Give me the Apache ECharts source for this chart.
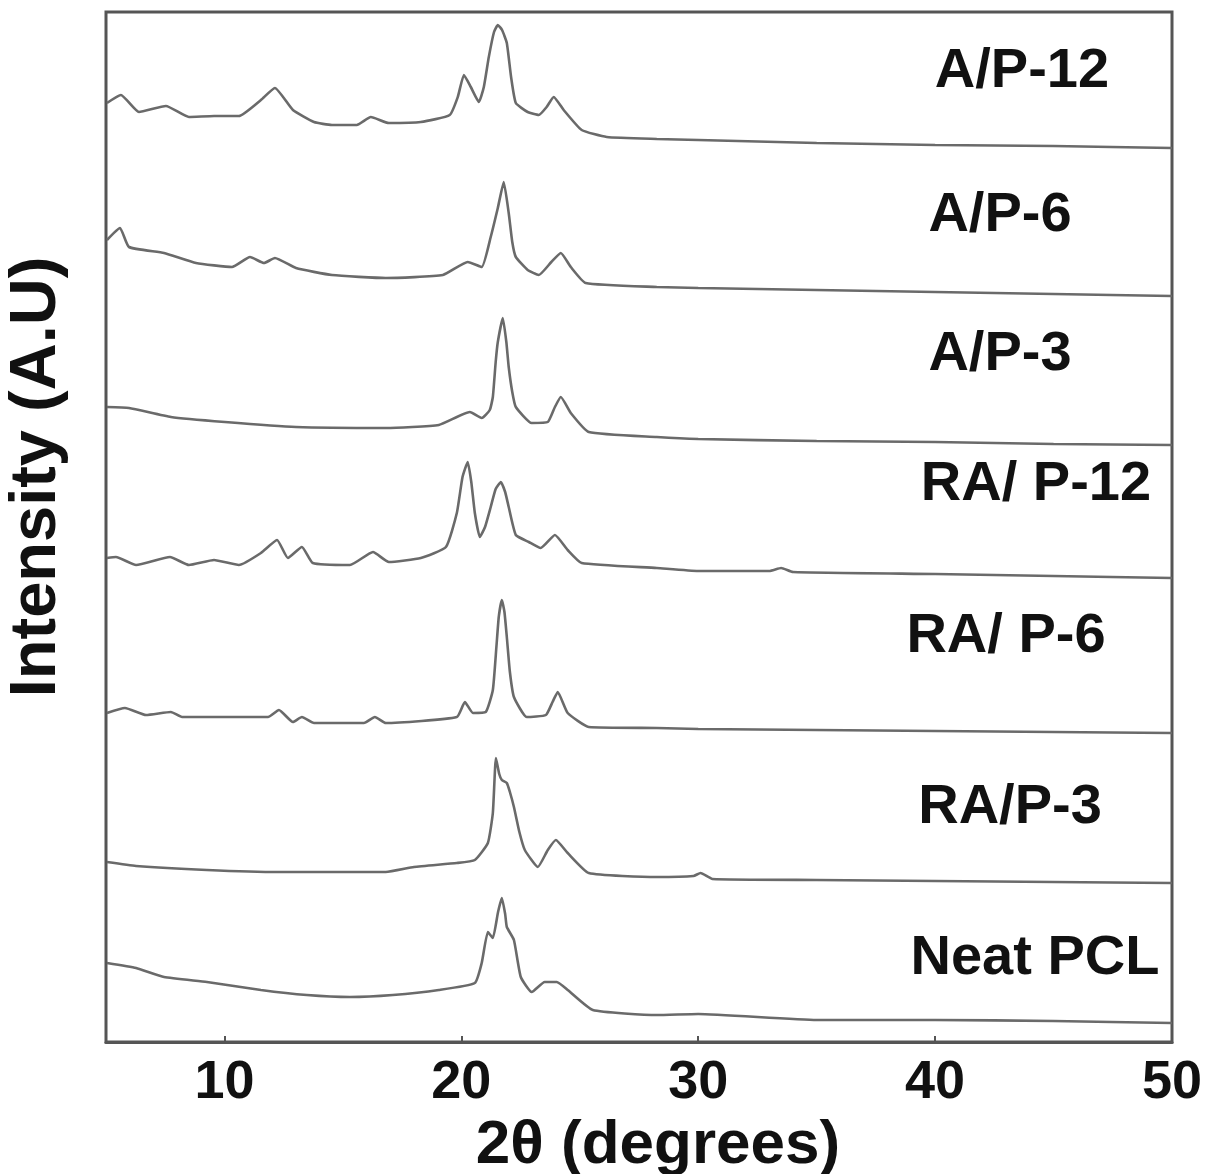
<!DOCTYPE html>
<html>
<head>
<meta charset="utf-8">
<script src="https://cdn.jsdelivr.net/npm/echarts@6/dist/echarts.min.js"></script>
<style>
  html, body { margin: 0; padding: 0; background: #fff; }
  #chart { width: 1207px; height: 1174px; }
</style>
</head>
<body>
<div id="chart"></div>
<script>
// sample names, top to bottom
var samples = ['A/P-12', 'A/P-6', 'A/P-3', 'RA/ P-12', 'RA/ P-6', 'RA/P-3', 'Neat PCL'];

// x tick labels
var xTicks = [10, 20, 30, 40, 50];

// patterns: [2theta, intensity (A.U., already stacked)]
var ap12 = [
  [5.04, 939], [5.63, 947], [6.39, 930], [7.53, 936], [8.5, 925], [9.56, 926], [10.61, 926],
  [11.54, 942], [12.13, 954], [12.89, 932], [13.78, 920], [14.54, 917], [15.59, 917], [16.18, 925],
  [16.94, 919], [18.29, 920], [19.51, 927], [19.85, 945], [20.11, 967], [20.4, 955], [20.74, 940],
  [20.95, 955], [21.16, 985], [21.38, 1010], [21.54, 1017], [21.72, 1012], [21.92, 999], [22.1, 965],
  [22.3, 939], [22.8, 930], [23.27, 927], [23.6, 935], [23.9, 945], [24.32, 932], [25.08, 912],
  [26.14, 905], [28.25, 903], [30, 902], [35, 899], [40, 897], [45, 896], [50, 894]
];
var ap6 = [
  [5.04, 802], [5.59, 814], [5.97, 795], [7.45, 789], [8.8, 779], [10.32, 775], [11.08, 785],
  [11.67, 779], [12.13, 784], [13.02, 774], [14.54, 767], [16.81, 764], [19.22, 767], [20.27, 780],
  [20.86, 775], [21.24, 805], [21.54, 834], [21.79, 860], [22.0, 829], [22.15, 800], [22.3, 785],
  [22.8, 772], [23.27, 767], [23.8, 780], [24.2, 789], [24.62, 775], [25.25, 759], [28.25, 755],
  [30, 754], [35, 752], [40, 750], [45, 748], [50, 746]
];
var ap3 = [
  [5.04, 635], [5.97, 634], [7.74, 625], [10.02, 620], [13.02, 615], [16.81, 614], [19.05, 617],
  [20.36, 630], [20.86, 624], [21.2, 632], [21.33, 645], [21.45, 680], [21.54, 700], [21.75, 724],
  [21.9, 700], [22.0, 675], [22.15, 650], [22.3, 635], [22.97, 619], [23.65, 620], [23.95, 635],
  [24.2, 645], [24.62, 629], [25.38, 610], [28.25, 605], [30, 603], [35, 601], [40, 600], [45, 598],
  [50, 597]
];
var rap12 = [
  [5.04, 484], [5.42, 485], [6.27, 477], [7.7, 485], [8.5, 477], [9.56, 482], [10.61, 477],
  [11.54, 489], [12.22, 502], [12.68, 484], [13.27, 495], [13.73, 479], [15.3, 477], [16.27, 490],
  [16.94, 480], [18.29, 484], [19.35, 495], [19.81, 529], [20.05, 565], [20.27, 580], [20.42, 560],
  [20.57, 529], [20.78, 505], [21.0, 515], [21.24, 535], [21.45, 553], [21.67, 560], [21.85, 550],
  [22.0, 535], [22.3, 507], [22.85, 500], [23.35, 494], [23.95, 507], [24.49, 492], [25.08, 479],
  [28.25, 474], [30, 471], [33, 471], [33.5, 474], [34, 470], [40, 468], [45, 466], [50, 464]
];
var rap6 = [
  [5.04, 329], [5.8, 334], [6.69, 327], [7.74, 330], [8.21, 325], [11.84, 325], [12.3, 332],
  [12.89, 320], [13.27, 325], [13.78, 319], [15.89, 319], [16.35, 325], [16.81, 319], [19.81, 325],
  [20.15, 340], [20.49, 329], [21.03, 330], [21.33, 352], [21.48, 395], [21.58, 425], [21.71, 442],
  [21.82, 430], [21.92, 405], [22.05, 370], [22.22, 345], [22.76, 325], [23.57, 327], [23.85, 340],
  [24.07, 350], [24.49, 329], [25.38, 315], [28.25, 314], [30, 313], [35, 312], [40, 311], [45, 310],
  [50, 309]
];
var rap3 = [
  [5.04, 180], [6.27, 176], [9.26, 172], [12.3, 170], [16.81, 170], [18.0, 175], [19.81, 179],
  [20.57, 182], [21.12, 199], [21.33, 229], [21.46, 284], [21.6, 268], [21.71, 262], [21.92, 259],
  [22.05, 250], [22.22, 235], [22.45, 210], [22.68, 192], [23.23, 175], [23.65, 192], [23.99, 202],
  [24.49, 189], [25.38, 169], [28.25, 165], [29.8, 166], [30.1, 169], [30.6, 163], [35, 162],
  [40, 161], [45, 160], [50, 159]
];
var neatPCL = [
  [5.04, 79], [6.27, 74], [7.45, 65], [9.26, 60], [11.54, 52], [13.48, 47], [15.3, 45], [17.11, 47],
  [19.05, 52], [20.57, 59], [20.86, 79], [21.12, 110], [21.33, 104], [21.55, 130], [21.71, 144],
  [21.85, 128], [21.92, 115], [22.22, 102], [22.51, 65], [22.97, 50], [23.52, 60], [24.03, 60],
  [24.49, 52], [25.55, 32], [28.25, 27], [30, 28], [35, 22], [40, 22], [45, 21], [50, 19]
];

var patterns = [ap12, ap6, ap3, rap12, rap6, rap3, neatPCL];

// label centres in px
var labelPos = [[1022, 72], [1000, 216], [1000, 355], [1036, 485], [1006, 637], [1010, 808], [1035, 959]];

var series = patterns.map(function (p, i) {
  return {
    name: samples[i],
    type: 'line',
    data: p,
    showSymbol: false,
    smooth: 0.15,
    lineStyle: { color: '#6a6a6a', width: 2.6 }
  };
});

var labels = samples.map(function (s, i) {
  return {
    type: 'text',
    x: labelPos[i][0],
    y: labelPos[i][1],
    style: {
      text: s,
      font: 'bold 56px "Liberation Sans", Arial, sans-serif',
      fill: '#111',
      textAlign: 'center',
      textVerticalAlign: 'middle'
    }
  };
});

var chart = echarts.init(document.getElementById('chart'));
chart.setOption({
  backgroundColor: '#fff',
  animation: false,
  grid: {
    left: 106, right: 35, top: 12, bottom: 132,
    outerBoundsMode: 'none',
    show: true, borderColor: '#555', borderWidth: 3
  },
  xAxis: {
    type: 'value',
    min: 5, max: 50,
    name: '2θ (degrees)',
    nameLocation: 'middle',
    nameGap: 70,
    nameTextStyle: {
      fontFamily: 'Liberation Sans', fontWeight: 'bold', fontSize: 62, color: '#111',
      padding: [0, 0, 0, 38]
    },
    axisLine: { show: true, lineStyle: { color: '#555', width: 3 } },
    axisTick: { show: true, inside: true, length: 6, customValues: [10, 20, 30, 40], lineStyle: { color: '#555', width: 2 } },
    axisLabel: {
      customValues: xTicks,
      margin: 14,
      fontFamily: 'Liberation Sans', fontWeight: 'bold', fontSize: 54, color: '#111'
    },
    splitLine: { show: false }
  },
  yAxis: {
    type: 'value',
    min: 0, max: 1030,
    name: 'Intensity (A.U)',
    nameLocation: 'middle',
    nameGap: 36,
    nameTextStyle: {
      fontFamily: 'Liberation Sans', fontWeight: 'bold', fontSize: 65, color: '#111',
      padding: [0, 0, 0, 100]
    },
    axisLine: { show: false },
    axisTick: { show: false },
    axisLabel: { show: false },
    splitLine: { show: false }
  },
  series: series,
  graphic: labels
});
</script>
</body>
</html>
